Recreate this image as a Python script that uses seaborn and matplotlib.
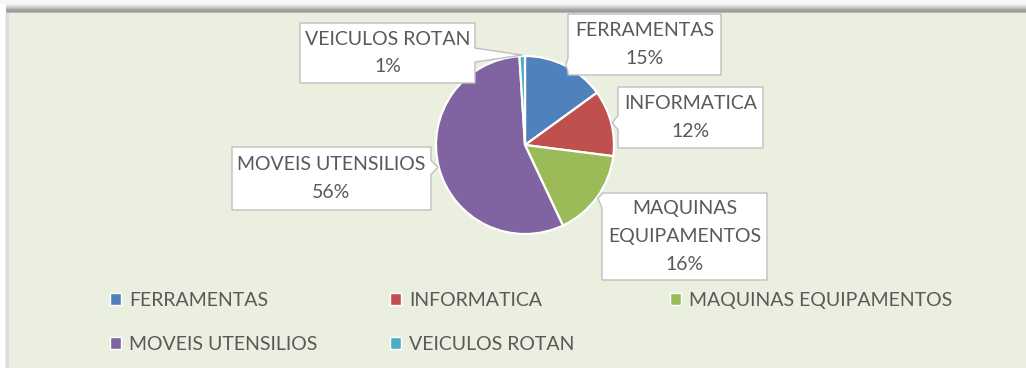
import matplotlib
matplotlib.use("Agg")
import numpy as np
import matplotlib.pyplot as plt
from matplotlib.patches import Rectangle, Polygon, Patch
import seaborn as sns

# Asset groups and their share of the total (%)
categories = ["FERRAMENTAS", "INFORMATICA", "MAQUINAS EQUIPAMENTOS",
              "MOVEIS UTENSILIOS", "VEICULOS ROTAN"]
shares = [15, 12, 16, 56, 1]
callout_names = ["FERRAMENTAS", "INFORMATICA", "MAQUINAS\nEQUIPAMENTOS",
                 "MOVEIS UTENSILIOS", "VEICULOS ROTAN"]
colors = ["#4F81BD", "#C0504D", "#9BBB59", "#8064A2", "#4BACC6"]

W, H = 1026, 368
BG = "#EBEFDF"
TXT = "#595959"
FS = 14

sns.set_theme(style="white")
plt.rcParams["font.family"] = ["Lato", "DejaVu Sans"]
palette = sns.color_palette(colors)

fig = plt.figure(figsize=(W / 100, H / 100), dpi=100, facecolor="white")


def frect(x0, y0, x1, y1, color):
    """Rectangle in figure pixels, y measured from the top."""
    fig.add_artist(Rectangle((x0 / W, 1 - y1 / H), (x1 - x0) / W, (y1 - y0) / H,
                             transform=fig.transFigure, facecolor=color,
                             edgecolor="none", zorder=0))


# chart area with its drop shadow
frect(0, 0, W, 4, "#F7F7F7")
for i, c in enumerate(["#EFEFEF", "#E4E4E4", "#D6D6D6", "#C8C8C8", "#B8B8B8",
                       "#A9A9A9", "#9E9E9E", "#9B9B9B", "#B5B5B5"]):
    frect(6, 4 + i, W, 5 + i, c)
frect(6, 13, 9, H, "#DCDCDC")
frect(5, 13, 6, H, "#EDEDED")
frect(9, 13, W, H, BG)

ax = fig.add_axes([0, 0, 1, 1])
ax.patch.set_alpha(0)

cx, cy, R = 525, H - 145, 89
wedges, _ = ax.pie(shares, colors=palette, startangle=90, counterclock=False,
                   center=(cx, cy), radius=R, frame=True,
                   wedgeprops=dict(edgecolor="white", linewidth=1.6))
ax.set_xlim(0, W)
ax.set_ylim(0, H)
ax.axis("off")

# callout boxes: (left, top, right, bottom) in pixels from the top-left
boxes = [(568, 14, 721, 75), (618, 87, 763, 148), (602, 193, 767, 280),
         (232, 147, 431, 210), (300, 23, 475, 83)]


def callout(box, tip, half=7, margin=8):
    x0, t, x1, b = box
    y0, y1 = H - b, H - t  # data y (bottom, top)
    tx, ty = tip
    pts = [(x0, y1)]
    # top edge, left -> right
    if not (tx < x0 or tx > x1) and ty > y1:
        c = np.clip(tx, x0 + margin, x1 - margin)
        pts += [(c - half, y1), (tx, ty), (c + half, y1)]
    pts.append((x1, y1))
    if tx > x1:
        c = np.clip(ty, y0 + margin, y1 - margin)
        pts += [(x1, c + half), (tx, ty), (x1, c - half)]
    pts.append((x1, y0))
    if not (tx < x0 or tx > x1) and ty < y0:
        c = np.clip(tx, x0 + margin, x1 - margin)
        pts += [(c + half, y0), (tx, ty), (c - half, y0)]
    pts.append((x0, y0))
    if tx < x0:
        c = np.clip(ty, y0 + margin, y1 - margin)
        pts += [(x0, c - half), (tx, ty), (x0, c + half)]
    ax.add_patch(Polygon(pts, closed=True, facecolor="white",
                         edgecolor="#BFBFBF", linewidth=1.0, zorder=4))
    return (x0 + x1) / 2, (y0 + y1) / 2


for w, name, val, box in zip(wedges, callout_names, shares, boxes):
    mid = np.deg2rad((w.theta1 + w.theta2) / 2)
    tip = (w.center[0] + (w.r + 1) * np.cos(mid), w.center[1] + (w.r + 1) * np.sin(mid))
    bx, by = callout(box, tip)
    ax.text(bx, by, f"{name}\n{val}%", ha="center", va="center", color=TXT,
            fontsize=FS, linespacing=1.78, zorder=5)

# legend laid out in three equal columns
handles = [Patch(facecolor=c, edgecolor="white", linewidth=1.0) for c in palette]
columns = [[0, 3], [1, 4], [2]]
col_x = [110, 390, 670]
for idx, x in zip(columns, col_x):
    fig.legend([handles[i] for i in idx], [categories[i] for i in idx],
               loc="upper left", bbox_to_anchor=(x / W, 1 - 292 / H),
               frameon=False, fontsize=FS, labelcolor=TXT, borderpad=0,
               borderaxespad=0, handlelength=0.55, handleheight=0.55,
               handletextpad=0.42, labelspacing=1.38)

fig.savefig("out.png", dpi=100, facecolor="white")
